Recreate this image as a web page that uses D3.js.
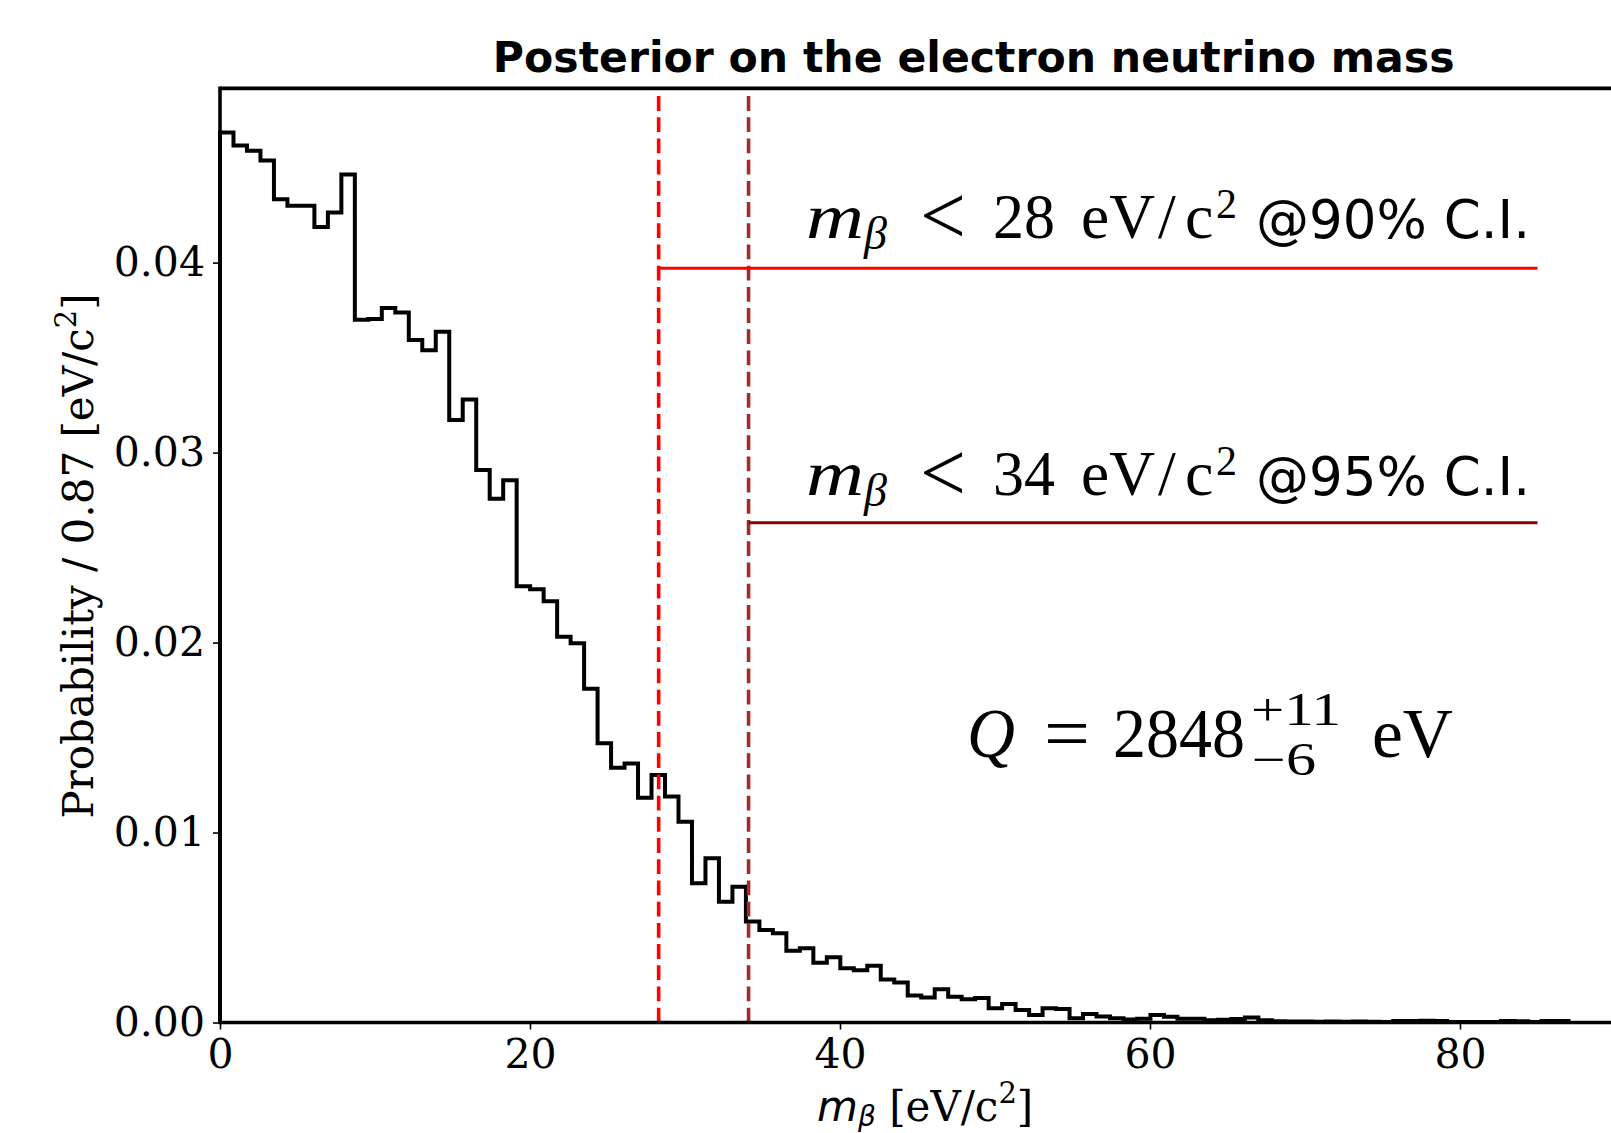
<!DOCTYPE html>
<html><head><meta charset="utf-8">
<script src="https://cdn.jsdelivr.net/npm/d3@7"></script>
<style>body{margin:0;background:#fff} svg{display:block}</style>
</head><body><svg id="c" width="1611" height="1133"></svg>
<script>
// ---- data ----
const binWidth = 0.87;
const binValues = [
  0.04685, 0.04617, 0.04589, 0.04538, 0.04334, 0.04299, 0.04299, 0.04188, 0.04264, 0.04464,
  0.03699, 0.03703, 0.03761, 0.03738, 0.03592, 0.03539, 0.03636, 0.03171, 0.03280, 0.02908,
  0.02757, 0.02855, 0.02297, 0.02280, 0.02218, 0.02031, 0.01996, 0.01757, 0.01470, 0.01341,
  0.01364, 0.01183, 0.01303, 0.01189, 0.01057, 0.00733, 0.00864, 0.00636, 0.00715, 0.00531,
  0.00487, 0.00470, 0.00378, 0.00391, 0.00315, 0.00343, 0.00285, 0.00275, 0.00299, 0.00227,
  0.00211, 0.00142, 0.00131, 0.00175, 0.00136, 0.00122, 0.00129, 0.00075, 0.00097, 0.00066,
  0.00039, 0.00075, 0.00071, 0.00022, 0.00045, 0.00031, 0.00022, 0.00016, 0.00020, 0.00039,
  0.00030, 0.00020, 0.00020, 0.00012, 0.00015, 0.00018, 0.00026, 0.00012, 0.00006, 0.00005,
  0.00005, 0.00004, 0.00005, 0.00004, 0.00005, 0.00004, 0.00003, 0.00008, 0.00008, 0.00009,
  0.00008, 0.00003, 0.00002, 0.00003, 0.00002, 0.00008, 0.00007, 0.00002, 0.00008, 0.00008
];
const xTicks = [0, 20, 40, 60, 80];
const yTicks = [0.00, 0.01, 0.02, 0.03, 0.04];
const limit90 = 28.3, limit95 = 34.1;
const bandEnd = 85;
const level90 = 0.0397, level95 = 0.0263;
const titleText = "Posterior on the electron neutrino mass";

// ---- layout ----
const svg = d3.select("#c");
const M = {left: 220, right: 1726.6, top: 88.4, bottom: 1022.5};
const x = d3.scaleLinear().domain([0, 97.2]).range([M.left, M.right]);
const y = d3.scaleLinear().domain([0, 0.04917]).range([M.bottom, M.top]);

// histogram step outline
const pts = [[0, 0]];
binValues.forEach((v, i) => { pts.push([i * binWidth, v]); pts.push([(i + 1) * binWidth, v]); });
pts.push([binValues.length * binWidth, 0]);
svg.append("path")
  .attr("d", d3.line().x(d => x(d[0])).y(d => y(d[1]))(pts))
  .attr("fill", "none").attr("stroke", "#000").attr("stroke-width", 4)
  .attr("stroke-linejoin", "miter");

// vertical dashed limits
[[limit90, "#ff0000"], [limit95, "#a52a2a"]].forEach(([v, c]) => {
  svg.append("line")
    .attr("x1", x(v)).attr("x2", x(v)).attr("y1", y(0)).attr("y2", M.top)
    .attr("stroke", c).attr("stroke-width", 3.6).attr("stroke-dasharray", "14.8,6.4");
});
// horizontal lines
[[limit90, level90, "#ff0000"], [limit95, level95, "#8b0000"]].forEach(([v, l, c]) => {
  svg.append("line")
    .attr("x1", x(v)).attr("x2", x(bandEnd)).attr("y1", y(l)).attr("y2", y(l))
    .attr("stroke", c).attr("stroke-width", 3);
});

// axes
const gx = svg.append("g").attr("transform", `translate(0,${M.bottom})`)
  .call(d3.axisBottom(x).tickValues(xTicks).tickSize(7).tickPadding(9).tickFormat(d3.format("d")));
const gy = svg.append("g").attr("transform", `translate(${M.left},0)`)
  .call(d3.axisLeft(y).tickValues(yTicks).tickSize(7).tickPadding(8).tickFormat(d3.format(".2f")));
[gx, gy].forEach(g => {
  g.select(".domain").remove();
  g.selectAll(".tick line").attr("stroke", "#000").attr("stroke-width", 1.6);
  g.selectAll(".tick text").attr("font-family", "DejaVu Serif").attr("font-size", 41).attr("fill", "#000");
});

// spines
svg.append("line").attr("x1", M.left).attr("x2", M.right).attr("y1", M.bottom).attr("y2", M.bottom)
  .attr("stroke", "#000").attr("stroke-width", 3.6);
svg.append("line").attr("x1", M.left).attr("x2", M.right).attr("y1", M.top).attr("y2", M.top)
  .attr("stroke", "#000").attr("stroke-width", 3.6);
svg.append("line").attr("x1", M.left).attr("x2", M.left).attr("y1", M.top - 1.8).attr("y2", M.bottom + 1.8)
  .attr("stroke", "#000").attr("stroke-width", 3.6);

// title
svg.append("text").attr("x", 973.7).attr("y", 71.5).attr("text-anchor", "middle")
  .attr("font-family", "DejaVu Sans").attr("font-weight", "bold").attr("font-size", 42.6)
  .text(titleText);

// y label
const yl = svg.append("text").attr("transform", "translate(93,556) rotate(-90)")
  .attr("text-anchor", "middle").attr("font-family", "DejaVu Serif").attr("font-size", 42);
yl.append("tspan").text("Probability / 0.87 [eV/c");
yl.append("tspan").attr("font-size", 29).attr("dy", -17).text("2");
yl.append("tspan").attr("dy", 17).text("]");

// x label
const xl = svg.append("text").attr("x", 817).attr("y", 1121)
  .attr("font-family", "DejaVu Serif").attr("font-size", 42);
xl.append("tspan").attr("font-family", "DejaVu Sans").attr("font-style", "oblique").text("m");
xl.append("tspan").attr("font-family", "DejaVu Sans").attr("font-style", "oblique").attr("font-size", 28).attr("dy", 5).text("β");
xl.append("tspan").attr("dy", -5).text(" [eV/c");
xl.append("tspan").attr("font-size", 29).attr("dy", -18).text("2");
xl.append("tspan").attr("dy", 18).text("]");

// limit annotations
function piece(g, xx, yy, size, txt, len, italic) {
  const t = g.append("text").attr("x", xx).attr("y", yy).attr("font-size", size).text(txt);
  if (italic) t.attr("font-style", "italic");
  if (len) t.attr("textLength", len).attr("lengthAdjust", "spacingAndGlyphs");
  return t;
}
function limitLabel(base, num, tail) {
  const g = svg.append("g").attr("font-family", "Liberation Serif").attr("fill", "#000");
  piece(g, 806, base, 64, "m", 58, true);
  piece(g, 864, base + 11, 46, "β", null, true);
  piece(g, 920, base + 6, 84, "<", 46, false);
  piece(g, 993, base, 64, num, 62, false);
  piece(g, 1081, base, 64, "eV", 74, false);
  piece(g, 1158, base, 64, "/", null, false);
  piece(g, 1185, base, 64, "c", null, false);
  piece(g, 1216, base - 20, 42, "2", null, false);
  g.append("text").attr("x", 1256).attr("y", base).attr("font-family", "DejaVu Sans")
    .attr("font-size", 53).text(tail);
}
limitLabel(238, "28", "@90% C.I.");
limitLabel(495, "34", "@95% C.I.");

// Q annotation
const q = svg.append("g").attr("font-family", "Liberation Serif").attr("fill", "#000");
piece(q, 967, 757, 70, "Q", 48, true);
piece(q, 1044, 759, 76, "=", 46, false);
piece(q, 1113, 757, 69, "2848", 132, false);
piece(q, 1251, 725, 46, "+11", 90, false);
piece(q, 1252, 775, 46, "\u22126", 64, false);
piece(q, 1372, 757, 69, "eV", 81, false);
</script></body></html>
